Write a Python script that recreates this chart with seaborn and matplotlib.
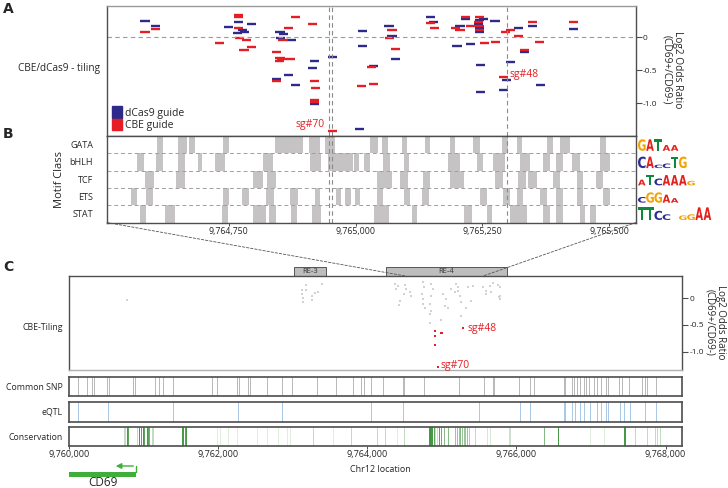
import numpy as np
import pandas as pd
import seaborn as sns
import matplotlib
matplotlib.use('Agg')
from matplotlib import pyplot as plt
from matplotlib import transforms as mtrans
from matplotlib.patches import Rectangle, PathPatch, Patch, ConnectionPatch
from matplotlib.textpath import TextPath
from matplotlib.font_manager import FontProperties

sns.set_theme(style='white')
plt.rcParams['font.family'] = ['Open Sans', 'DejaVu Sans']

# ------------------------------------------------------------------ data
zoom_range = (9764510, 9765553)
full_range = (9760000, 9768220)
sg70_pos, sg48_pos = 9764950, 9765299

dcas9_pos = [9764585, 9764606, 9764769, 9764795, 9764750, 9764778, 9764768, 9764781, 9764851, 9764858,
             9764852, 9764874, 9764919, 9764916, 9764867, 9764844, 9764882, 9764919, 9764955, 9765008,
             9765014, 9765013, 9765036, 9765066, 9765072, 9765078, 9765148, 9765154, 9765206, 9765216,
             9765200, 9765226, 9765244, 9765242, 9765244, 9765244, 9765252, 9765275, 9765246, 9765246,
             9765305, 9765297, 9765291, 9765321, 9765334, 9765349, 9765364, 9765429]
dcas9_lfc = [0.24, 0.16, 0.23, 0.20, 0.15, 0.10, 0.06, 0.07, 0.08, 0.05,
             -0.01, -0.05, -0.36, -0.47, -0.57, -0.64, -0.73, -1.02, -0.31, -1.39,
             0.09, -0.13, -0.44, 0.17, 0.01, -0.33, 0.30, 0.23, 0.17, 0.27,
             -0.13, -0.10, 0.26, 0.20, 0.14, 0.07, 0.27, 0.25, -0.43, -0.83,
             -0.38, -0.65, -0.80, 0.13, -0.23, 0.16, -0.72, 0.12]
cbe_pos = [9764585, 9764606, 9764769, 9764769, 9764769, 9764772, 9764785, 9764731, 9764795, 9764780,
           9764857, 9764868, 9764882, 9764916, 9764844, 9764851, 9764854, 9764872, 9764850, 9764844,
           9764919, 9764921, 9764919, 9764919, 9764955, 9765011, 9765032, 9765036, 9765072, 9765067,
           9765078, 9765148, 9765156, 9765197, 9765206, 9765216, 9765226, 9765244, 9765242, 9765244,
           9765244, 9765255, 9765276, 9765295, 9765305, 9765291, 9765321, 9765334, 9765349, 9765362,
           9765429]
cbe_lfc = [0.07, 0.12, 0.34, 0.31, 0.13, -0.02, -0.04, -0.09, -0.15, -0.19,
           -0.04, 0.13, 0.31, 0.20, -0.23, -0.32, -0.34, -0.33, -0.36, -0.66,
           -0.67, -0.78, -0.95, -0.98, -1.43, -0.74, -0.45, -0.71, 0.10, -0.01,
           -0.18, 0.21, 0.14, 0.14, 0.10, 0.31, 0.17, 0.30, 0.23, 0.17,
           0.11, -0.09, -0.07, 0.08, 0.10, -0.61, 0.02, -0.20, 0.23, -0.07,
           0.23]

motif_classes = ['GATA', 'bHLH', 'TCF', 'ETS', 'STAT']
motif_start = {
    'GATA': [9764609, 9764650, 9764659, 9764672, 9764738, 9764841, 9764854, 9764865, 9764874, 9764882,
             9764908, 9764919, 9764940, 9764952, 9765029, 9765052, 9765091, 9765137, 9765187, 9765232,
             9765288, 9765318, 9765377, 9765403, 9765482],
    'bHLH': [9764570, 9764606, 9764650, 9764689, 9764722, 9764732, 9764818, 9764910, 9764945, 9764962,
             9764975, 9764988, 9764997, 9765016, 9765055, 9765095, 9765183, 9765239, 9765272, 9765324,
             9765370, 9765396, 9765426, 9765482],
    'TCF': [9764585, 9764646, 9764797, 9764826, 9765042, 9765055, 9765088, 9765134, 9765187, 9765275,
            9765321, 9765341, 9765390, 9765436, 9765475],
    'ETS': [9764558, 9764587, 9764738, 9764777, 9764824, 9764870, 9764921, 9764961, 9764979, 9764999,
            9765042, 9765095, 9765131, 9765246, 9765291, 9765318, 9765364, 9765396, 9765436, 9765488],
    'STAT': [9764575, 9764625, 9764736, 9764798, 9764811, 9764830, 9764872, 9764915, 9765036, 9765111,
             9765213, 9765259, 9765305, 9765370, 9765396, 9765442, 9765462],
}
motif_width = {
    'GATA': [12, 9, 9, 12, 13, 13, 10, 9, 8, 14, 11, 10, 12, 8, 16, 13, 10, 10, 10, 13, 13, 10, 13, 20, 12],
    'bHLH': [12, 14, 14, 8, 10, 10, 20, 22, 17, 13, 13, 8, 9, 13, 13, 10, 23, 13, 23, 20, 13, 13, 16, 20],
    'TCF': [17, 18, 21, 18, 13, 16, 16, 13, 26, 16, 16, 16, 13, 13, 13],
    'ETS': [12, 13, 13, 12, 16, 16, 9, 10, 12, 10, 13, 13, 13, 13, 13, 13, 13, 13, 13, 13],
    'STAT': [12, 20, 13, 13, 13, 14, 12, 16, 30, 10, 16, 10, 33, 13, 13, 10, 13],
}
# motif logos: (letter, relative height)
motif_logo = {
    'GATA': [('G', 1.0), ('A', 1.0), ('T', 1.0), ('A', 0.5), ('A', 0.5)],
    'bHLH': [('C', 1.0), ('A', 1.0), ('C', 0.3), ('C', 0.4), ('T', 1.0), ('G', 1.0)],
    'TCF': [('A', 0.5), ('T', 0.9), ('C', 0.6), ('A', 0.9), ('A', 0.9), ('A', 0.9), ('G', 0.4)],
    'ETS': [('C', 0.5), ('G', 0.9), ('G', 0.9), ('A', 0.7), ('A', 0.4)],
    'STAT': [('T', 1.1), ('T', 1.1), ('C', 0.8), ('C', 0.5), (' ', 0), ('G', 0.4), ('G', 0.5), ('A', 1.1), ('A', 1.1)],
}

tiling_pos = [9760777, 9763175, 9763118, 9763176, 9763118, 9763132, 9763132, 9763260, 9763260, 9763296,
              9763341, 9763390, 9764368, 9764381, 9764413, 9764502, 9764515, 9764489, 9764578, 9764591,
              9764435, 9764426, 9764748, 9764761, 9764739, 9764748, 9764748, 9764770, 9764859, 9764882,
              9764859, 9764837, 9764859, 9764837, 9764837, 9765016, 9765060, 9765038, 9765083, 9764993,
              9765127, 9765172, 9765194, 9765217, 9765239, 9765261, 9765217, 9765351, 9765418, 9765395,
              9765552, 9765596, 9765641, 9765663, 9765686, 9765753, 9765775, 9765775, 9765766, 9765784,
              9765596, 9765328, 9765252]
tiling_lfc = [-0.03, 0.25, 0.16, 0.16, 0.07, 0.01, -0.08, 0.04, -0.04, 0.09,
              0.11, 0.26, 0.27, 0.17, 0.22, 0.25, 0.18, 0.08, 0.11, 0.04,
              -0.05, -0.13, 0.30, 0.20, 0.08, -0.02, -0.11, -0.18, 0.27, 0.17,
              0.04, -0.11, -0.24, -0.30, -0.47, 0.08, -0.01, -0.14, -0.18, -0.40,
              0.17, 0.11, 0.27, 0.20, 0.04, -0.07, 0.14, 0.20, 0.22, -0.05,
              0.20, 0.14, 0.23, 0.11, 0.28, 0.25, 0.20, 0.04, 0.02, -0.01,
              0.08, -0.18, -0.33]
hit_pos = [9764904, 9764904, 9764998, 9764985, 9764904, 9765283, 9764949]
hit_lfc = [-0.62, -0.70, -0.65, -0.66, -0.87, -0.55, -1.29]

re_names = ['RE-3', 'RE-4']
re_start = [9763016, 9764248]
re_end = [9763445, 9765870]

snp_pos = 9760000 + np.array([124, 245, 304, 339, 513, 536, 862, 884, 1152, 1210, 1264, 1398, 1912, 1979,
                              2255, 2274, 2403, 2425, 2649, 2850, 2984, 3319, 3587, 3810, 3922, 3953, 4043,
                              4212, 4480, 4498, 4766, 5226, 5570, 5686, 5704, 6030, 6187, 6231, 6633, 6656,
                              6744, 6776, 6811, 6847, 6901, 6937, 6968, 7035, 7079, 7133, 7205, 7223, 7370,
                              7414, 7504, 7682, 7728, 7749, 7875])
eqtl_pos = 9760000 + np.array([124, 527, 1398, 2269, 2850, 4043, 4480, 5494, 6043, 6187, 6633, 6656, 6744,
                               6790, 6857, 6901, 6991, 7079, 7133, 7205, 7223, 7393, 7437, 7527, 7728, 7875])
cons_pos = 9760000 + np.array([773, 795, 943, 962, 989, 1005, 1041, 1063, 1077, 1510, 1532, 1554, 1568,
                               737, 750, 906, 1109, 1131, 1979, 2023, 2135, 2247, 2515, 2649, 2805, 2917,
                               2961, 3274, 3542, 3788, 4131, 4244, 4399, 4489, 4914, 4935, 4824, 4837, 4855,
                               4874, 4891, 4958, 4989, 5025, 5079, 5182, 5203, 5226, 5248, 5270, 5293, 5316,
                               5337, 5360, 5450, 5605, 5651, 5896, 5919, 6365, 6557, 6991, 7169, 7437, 7455,
                               7594, 7749, 7862, 7884, 7929])
cons_score = [0.9, 0.8, 0.9, 0.8, 0.9, 0.8, 0.9, 0.8, 0.7, 0.9, 0.9, 0.8, 0.9,
              0.3, 0.3, 0.3, 0.3, 0.3, 0.15, 0.15, 0.15, 0.15, 0.15, 0.15, 0.15, 0.15,
              0.15, 0.3, 0.15, 0.3, 0.3, 0.3, 0.15, 0.3, 0.25, 0.25, 0.9, 0.95, 0.9,
              0.9, 0.8, 0.8, 0.7, 0.6, 0.6, 0.5, 0.5, 0.5, 0.6, 0.5, 0.5, 0.5,
              0.5, 0.4, 0.3, 0.2, 0.2, 0.25, 0.25, 0.6, 0.9, 0.15, 0.15, 0.9, 0.9,
              0.3, 0.3, 0.3, 0.3, 0.3]

gene_name, gene_start, gene_end, tss_arrow_end = 'CD69', 9760000, 9760900, 9760590

# ------------------------------------------------------------------ style
navy, red = '#2d2a8a', '#e51d24'
frame = '#4d4d4d'
letter_col = {'A': '#e4201c', 'C': '#2d2d96', 'G': '#f4a300', 'T': '#0c8a3c'}
W, H = 728, 488

fig = plt.figure(figsize=(W / 100, H / 100), dpi=100)


def px_axes(left, top, right, bottom, **kw):
    return fig.add_axes([left / W, 1 - bottom / H, (right - left) / W, (bottom - top) / H], **kw)


def style_frame(ax, lw=1.0):
    for s in ax.spines.values():
        s.set_visible(True)
        s.set_color(frame)
        s.set_linewidth(lw)


axO = px_axes(0, 0, W, H, zorder=10)
axO.set_xlim(0, W)
axO.set_ylim(H, 0)
axO.axis('off')

axA = px_axes(107, 6, 636, 136)
axB = px_axes(107, 136, 636, 222.5)
axC = px_axes(69, 276, 682, 370)
axS = px_axes(69, 377, 682, 396)
axE = px_axes(69, 402, 682, 422)
axK = px_axes(69, 427, 682, 446)

# ---------------------------------------------------------------- panel A
guides = pd.DataFrame({'pos': dcas9_pos + cbe_pos, 'lfc': dcas9_lfc + cbe_lfc,
                       'guide': ['dCas9 guide'] * len(dcas9_pos) + ['CBE guide'] * len(cbe_pos)})
for g, col in [('dCas9 guide', navy), ('CBE guide', red)]:
    d = guides[guides.guide == g]
    axA.hlines(d.lfc, d.pos - 9, d.pos + 9, color=col, lw=1.7)
axA.axhline(0, color='#9a9a9a', lw=0.8, ls=(0, (4, 3)))
for ax in (axA, axB):
    for x in (sg70_pos - 3, sg70_pos + 3, sg48_pos):
        ax.axvline(x, color='#8a8a8a', lw=0.8, ls=(0, (4, 3)))
    ax.set_xlim(*zoom_range)
axA.set_ylim(-1.5, 0.47)
axA.set_xticks([])
axA.yaxis.tick_right()
axA.set_yticks([0, -0.5, -1.0], ['0', '-0.5', '-1.0'])
axA.tick_params(axis='y', right=True, length=4, width=0.8, color=frame, labelsize=6, pad=1)
style_frame(axA)
axA.spines['top'].set_color('#9a9a9a')
axA.annotate('sg#70', (sg70_pos - 5, -1.43), xytext=(-2, 1), textcoords='offset points',
             ha='right', va='bottom', color=red, fontsize=7.5)
axA.annotate('sg#48', (9765291 + 10, -0.61), xytext=(1, 2), textcoords='offset points',
             ha='left', va='center', color=red, fontsize=7.5)
axA.legend(handles=[Patch(color=navy, label='dCas9 guide'), Patch(color=red, label='CBE guide')],
           loc='lower left', frameon=False, fontsize=7.5, handlelength=0.9, handleheight=1.3,
           handletextpad=0.3, labelspacing=0, borderaxespad=0.2, borderpad=0.3)

# ---------------------------------------------------------------- panel B
for i, m in enumerate(motif_classes):
    for s, w in zip(motif_start[m], motif_width[m]):
        axB.add_patch(Rectangle((s, i), w, 1, facecolor='#6f6a6a', alpha=0.4, lw=0))
for i in range(1, len(motif_classes)):
    axB.axhline(i, color='#a0a0a0', lw=0.7, ls=(0, (4, 3)))
axB.set_ylim(len(motif_classes), 0)
axB.set_yticks(np.arange(len(motif_classes)) + 0.5, motif_classes)
axB.set_xticks([9764750, 9765000, 9765250, 9765500], ['9,764,750', '9,765,000', '9,765,250', '9,765,500'])
axB.tick_params(axis='x', bottom=True, length=2.5, width=0.7, color=frame, labelsize=6.3, pad=1)
axB.tick_params(axis='y', left=False, labelsize=6.5, pad=4)
axB.set_ylabel('Motif Class', fontsize=8, labelpad=3)
style_frame(axB)

# motif logos drawn as letter paths
fp = FontProperties(family='DejaVu Sans', weight='bold')
row_top, row_h = 136, 86.5 / 5
for i, m in enumerate(motif_classes):
    x = 638
    base = row_top + (i + 1) * row_h - 2.5
    for letter, h in motif_logo[m]:
        if letter != ' ':
            tp = TextPath((0, 0), letter, size=1, prop=fp)
            bb = tp.get_extents()
            tr = (mtrans.Affine2D().translate(-bb.x0, -bb.y0)
                  .scale(7.6 / bb.width, -11.5 * h / bb.height).translate(x, base))
            axO.add_patch(PathPatch(tr.transform_path(tp), color=letter_col[letter], lw=0))
        x += 8.2

# ---------------------------------------------------------------- panel C
sns.scatterplot(x=tiling_pos, y=tiling_lfc, ax=axC, color='#d2d2d2', s=4, marker='s', linewidth=0)
sns.scatterplot(x=hit_pos, y=hit_lfc, ax=axC, color=red, s=4.5, marker='s', linewidth=0)
axC.annotate('sg#48', (hit_pos[5], hit_lfc[5]), xytext=(3, -1), textcoords='offset points',
             ha='left', va='center', color=red, fontsize=7.5)
axC.annotate('sg#70', (hit_pos[6], hit_lfc[6]), xytext=(2, 1), textcoords='offset points',
             ha='left', va='center', color=red, fontsize=7.5)
axC.set_ylim(-1.345, 0.415)
axC.yaxis.tick_right()
axC.set_yticks([0, -0.5, -1.0], ['0', '-0.5', '-1.0'])
axC.tick_params(axis='y', right=True, length=4, width=0.8, color=frame, labelsize=6, pad=1.5)
axC.set_xticks([])
style_frame(axC)
axC.spines['bottom'].set_color('#b0b0b0')
bt = mtrans.blended_transform_factory(axC.transData, axC.transAxes)
for name, s, e in zip(re_names, re_start, re_end):
    axC.add_patch(Rectangle((s, 1.0), e - s, 0.095, transform=bt, clip_on=False,
                            facecolor='#bdbdbd', edgecolor='#555555', lw=0.7))
    axC.text((s + e) / 2, 1.047, name, transform=bt, ha='center', va='center', fontsize=5.5, color='#333333')

for ax, pos, col, alphas in [(axS, snp_pos, '#b8b8b8', None), (axE, eqtl_pos, '#a8c8e6', None),
                             (axK, cons_pos, '#2f8a2f', cons_score)]:
    for j, p in enumerate(pos):
        ax.axvline(p, color=col, lw=0.7, alpha=1 if alphas is None else alphas[j])
    ax.set_yticks([])
    ax.set_xticks([])
    style_frame(ax, lw=1.2)

for ax in (axC, axS, axE, axK):
    ax.set_xlim(*full_range)
axK.set_xticks([9760000, 9762000, 9764000, 9766000, 9768000],
               ['9,760,000', '9,762,000', '9,764,000', '9,766,000', '9,768,000'])
axK.tick_params(axis='x', bottom=True, length=2, width=0.7, color=frame, labelsize=6.5, pad=1)

# gene model
gt = mtrans.blended_transform_factory(axK.transData, axO.transData)
axO.add_patch(Rectangle((gene_start, 471.5), gene_end - gene_start, 5, transform=gt,
                        facecolor='#3fae3a', lw=0, clip_on=False))
axO.plot([gene_end, gene_end], [472, 466], transform=gt, color='#3fae3a', lw=1, clip_on=False)
axO.annotate('', xy=(tss_arrow_end, 466), xytext=(gene_end, 466), xycoords=gt, textcoords=gt,
             arrowprops=dict(arrowstyle='-|>', color='#3fae3a', lw=1, mutation_scale=8))
axO.text((gene_start + gene_end) / 2, 483, gene_name, transform=gt, ha='center', va='center', fontsize=8.5)

# ---------------------------------------------------------------- labels & zoom lines
ylab = 'Log2 Odds Ratio\n(CD69+/CD69-)'
axO.text(672, 70, ylab, rotation=270, ha='center', va='center', fontsize=7.3, linespacing=0.95)
axO.text(715, 322, ylab, rotation=270, ha='center', va='center', fontsize=7.0, linespacing=0.95)
axO.text(380, 469, 'Chr12 location', ha='center', va='center', fontsize=6.5)
axO.text(100, 68, 'CBE/dCas9 - tiling', ha='right', va='center', fontsize=7.2)
for txt, y in [('CBE-Tiling', 327), ('Common SNP', 387), ('eQTL', 412), ('Conservation', 437)]:
    axO.text(63, y, txt, ha='right', va='center', fontsize=6.3)
for txt, y in [('A', 9), ('B', 134), ('C', 267)]:
    axO.text(3, y, txt, ha='left', va='center', fontsize=10, fontweight='bold', family='DejaVu Sans')

for xa, xb in [(0, zoom_range[0]), (1, zoom_range[1])]:
    con = ConnectionPatch(xyA=(xa, 0), coordsA=axB.transAxes, xyB=(xb, 1), coordsB=axC.get_xaxis_transform(),
                          color='#555555', lw=0.6, ls=(0, (3, 2)))
    fig.add_artist(con)

fig.savefig('out.png', dpi=100)
